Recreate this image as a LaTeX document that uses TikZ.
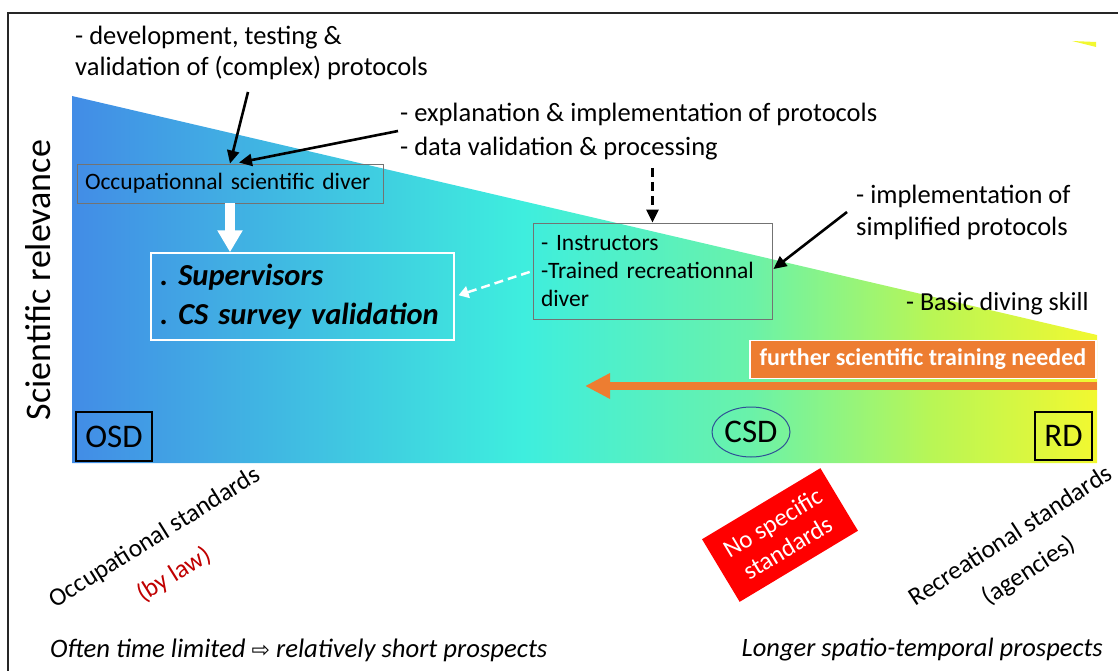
\documentclass[tikz,border=0pt]{standalone}
\usepackage{fontspec}
\setmainfont{Carlito}
\newfontfamily\arrowfont{DejaVu Sans}
\usetikzlibrary{shapes,arrows,arrows.meta,calc,positioning,backgrounds}

\definecolor{osdblue}{RGB}{66,140,230}
\definecolor{csdcyan}{RGB}{62,238,222}
\definecolor{csdgreen}{RGB}{105,242,170}
\definecolor{limegreen}{RGB}{185,246,85}
\definecolor{rdyellow}{RGB}{242,248,48}
\definecolor{trainorange}{RGB}{237,125,49}
\definecolor{lawred}{RGB}{192,0,0}
\definecolor{ellblue}{RGB}{47,80,150}

\pgfdeclarehorizontalshading{csdshade}{100bp}{color(0bp)=(osdblue); color(25bp)=(osdblue); color(47bp)=(csdcyan); color(58bp)=(csdgreen); color(67bp)=(limegreen); color(75bp)=(rdyellow); color(100bp)=(rdyellow)}

\tikzset{
  note/.style={anchor=west, align=left, inner sep=0pt, font=\fontsize{26.5}{32}\selectfont},
  rolebox/.style={draw=black!55, line width=0.9pt, align=left, inner xsep=8pt, font=\fontsize{23.5}{28}\selectfont},
  divertag/.style={draw=black, line width=1.3pt, inner sep=0pt, font=\fontsize{33}{34}\selectfont},
  slanted/.style={inner sep=0pt, font=\fontsize{25.5}{28}\selectfont},
  pointer/.style={-{Triangle[length=13pt,width=12pt]}, line width=2.6pt},
}

\begin{document}
\frenchspacing
\begin{tikzpicture}[x=1pt, y=-1pt]
  \useasboundingbox (0,0) rectangle (1118,671);
  \draw[line width=2pt, black!85] (1118,13) -- (8,13) -- (8,671);
  \fill[rdyellow] (1072,41) -- (1096,42) -- (1096,47) -- cycle;

  \shade[shading=csdshade] (72,96) -- (1097,335) -- (1097,463) -- (72,463) -- cycle;

  \node[rotate=90, inner sep=0pt, font=\fontsize{36}{38}\selectfont] (relev) at (38,280) {Scientific relevance};

  \node[note, font=\fontsize{26.5}{31}\selectfont] (devnote) at (75,53) {- development, testing \&\\validation of (complex) protocols};
  \node[note, font=\fontsize{26.5}{34}\selectfont] (explnote) at (400,132) {- explanation \& implementation of protocols\\- data validation \& processing};
  \node[note] (simplnote) at (856,212) {- implementation of\\simplified protocols};
  \node[note, font=\fontsize{26}{28}\selectfont] (basicnote) at (906,304) {- Basic diving skill};

  \node[rolebox, minimum width=306pt, minimum height=39pt, text width=290pt] (occdiver) at (230,183.5) {Occupationnal scientific diver};
  \node[rolebox, minimum width=239pt, minimum height=96pt, text width=223pt] (instr) at (652.5,271) {- Instructors\\-Trained recreationnal\\diver};
  \node[draw=white, line width=1.5pt, minimum width=303pt, minimum height=87pt, text width=285pt, inner xsep=9pt, align=left, font=\fontsize{30.5}{39}\selectfont\bfseries\itshape] (superv) at (302.5,296.5) {. Supervisors\\. CS survey validation};

  \node[fill=trainorange, draw=white, line width=1.5pt, minimum width=346pt, minimum height=38pt, inner sep=0pt, text=white, font=\fontsize{24}{26}\selectfont\bfseries] (train) at (923,359.5) {further scientific training needed};

  \node[divertag, minimum width=76pt, minimum height=49pt] (osd) at (114,436.5) {OSD};
  \node[ellipse, draw=ellblue, line width=1pt, inner sep=0pt, minimum width=78pt, minimum height=50pt, font=\fontsize{33}{34}\selectfont] (csd) at (751,432) {CSD};
  \node[divertag, minimum width=57pt, minimum height=48pt] (rd) at (1063.5,436) {RD};

  \node[slanted, rotate=32] (occstd) at (155,538) {Occupational standards};
  \node[slanted, rotate=32, text=lawred] (bylaw) at (174,575) {(by law)};
  \node[slanted, rotate=33] (recstd) at (1010,535) {Recreational standards};
  \node[slanted, rotate=33] (agencies) at (1029,571) {(agencies)};
  \node[fill=red, rotate=31, minimum width=138pt, minimum height=73pt, inner sep=0pt, align=center, text=white, font=\fontsize{25}{29}\selectfont] (nospec) at (780,535) {No specific\\standards};

  \node[anchor=west, inner sep=0pt, font=\fontsize{26.7}{30}\selectfont\itshape] (shortpro) at (50,650) {Often time limited {\arrowfont\upshape\fontsize{22}{24}\selectfont ⇨} relatively short prospects};
  \node[anchor=east, inner sep=0pt, font=\fontsize{26.5}{30}\selectfont\itshape] (longpro) at (1103,650) {Longer spatio-temporal prospects};

  \coordinate (devtail) at (248,92);
  \coordinate (expltail) at (398,131);
  \coordinate (simpltail) at (847,212);
  \coordinate (trainR) at (1097,386);
  \coordinate (trainL) at (585,386);

  \draw[pointer] (devtail) -- (occdiver.north);
  \draw[pointer] (expltail) -- ($(occdiver.north)+(9,-1)$);
  \draw[pointer, dashed, dash pattern=on 9pt off 5pt] (652.5,168) -- (instr.north);
  \draw[pointer] (simpltail) -- ($(instr.east)+(1,-2)$);
  \draw[-{Triangle[length=10pt,width=12pt]}, line width=2.5pt, white, dash pattern=on 9pt off 5pt, shorten >=4pt, shorten <=3pt] (instr.west) -- (superv.east);
  \draw[-{Triangle[length=22pt,width=24pt]}, line width=10pt, white] (occdiver.south) -- (occdiver.south |- superv.north);
  \draw[-{Triangle[length=25pt,width=24pt]}, line width=8pt, trainorange] (trainR) -- (trainL);
\end{tikzpicture}
\end{document}
